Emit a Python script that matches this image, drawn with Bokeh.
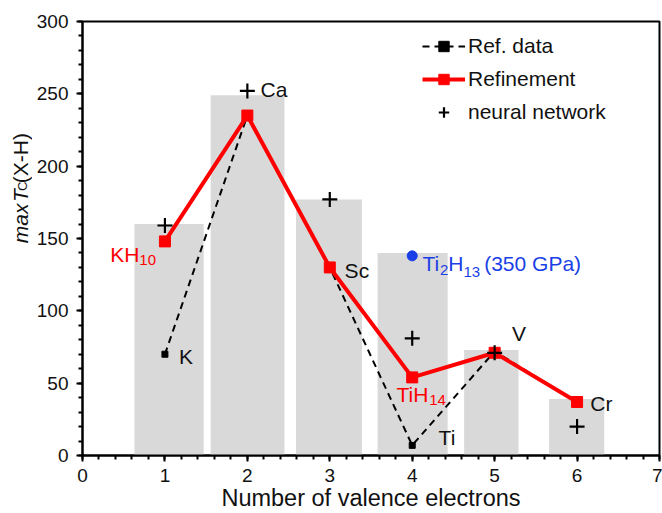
from bokeh.plotting import figure
from bokeh.layouts import row
from bokeh.models import Range1d, SingleIntervalTicker, Label, Legend, LegendItem
from bokeh.embed import file_html
from bokeh.resources import INLINE

# ---------------- data ----------------
electrons = [1, 2, 3, 4, 5, 6]
elements = ["K", "Ca", "Sc", "Ti", "V", "Cr"]
bar_left = [0.63, 1.555, 2.59, 3.58, 4.63, 5.66]
bar_right = [1.47, 2.45, 3.39, 4.43, 5.29, 6.33]
bar_top = [160, 249, 177, 140, 73, 39]
ref_tc = [70, 235, 130, 7, 72, 37]
refine_tc = [148, 235, 130, 54, 71, 37]
nn_tc = [159, 252, 177, 81, 71, 20]
ti2h13_x = [4]
ti2h13_tc = [138]
x_title = "Number of valence electrons"

FONT = "Liberation Sans"
RED = "#ff0000"
BLUE = "#1a3fe6"
INK = "#111111"

TOTAL_W, TOTAL_H = 662, 513
YT_W = 32          # width of the strip holding the y-axis title
MAIN_W = TOTAL_W - YT_W

p = figure(width=MAIN_W, height=TOTAL_H, x_range=Range1d(0, 7), y_range=Range1d(0, 300),
           output_backend="svg", toolbar_location=None,
           min_border_left=50, min_border_right=3, min_border_top=21, min_border_bottom=57)

p.xaxis.ticker = SingleIntervalTicker(interval=1, num_minor_ticks=5)
p.yaxis.ticker = SingleIntervalTicker(interval=50, num_minor_ticks=5)
for ax in (p.xaxis, p.yaxis):
    ax.axis_line_width = 2
    ax.axis_line_color = "black"
    ax.major_tick_in = 0
    ax.major_tick_out = 6
    ax.minor_tick_in = 0
    ax.minor_tick_out = 4
    ax.major_tick_line_width = 2
    ax.minor_tick_line_width = 2
    ax.major_tick_line_color = "black"
    ax.minor_tick_line_color = "black"
    ax.major_label_text_font = FONT
    ax.major_label_text_font_size = "19px"
    ax.major_label_text_color = INK
p.xaxis.major_label_standoff = 7
p.yaxis.major_label_standoff = 8
p.xaxis.axis_label = x_title
p.xaxis.axis_label_text_font = FONT
p.xaxis.axis_label_text_font_size = "23.5px"
p.xaxis.axis_label_text_font_style = "normal"
p.xaxis.axis_label_text_color = INK
p.xaxis.axis_label_standoff = 0
p.xgrid.grid_line_color = None
p.ygrid.grid_line_color = None
p.outline_line_color = "black"
p.outline_line_width = 2
p.outline_line_alpha = 1

# ---------------- glyphs ----------------
p.quad(left=bar_left, right=bar_right, bottom=0, top=bar_top,
       fill_color="#d9d9d9", line_color=None)
ref_line = p.line(electrons, ref_tc, line_color="black", line_width=2, line_dash="7 5")
ref_pts = p.scatter(electrons, ref_tc, marker="square", size=6, color="black")
red_line = p.line(electrons, refine_tc, line_color=RED, line_width=4)
red_pts = p.scatter(electrons, refine_tc, marker="square", size=11, color=RED)
nn_pts = p.scatter(electrons, nn_tc, marker="cross", size=15, line_color="black", line_width=2.2)
p.scatter(ti2h13_x, ti2h13_tc, marker="circle", size=10, color=BLUE)

# ---------------- text helpers ----------------
PX_X = 7 / 577
PX_Y = 300 / 435
MID = 0.35  # middle of the text box above the baseline, in em
ARIAL = {" ": 278, "(": 333, ")": 333, "-": 333, "G": 778, "P": 667, "a": 556,
         "H": 722, "T": 611, "i": 222, "K": 667, "C": 722, "X": 667, "m": 833,
         "x": 500}
for d in "0123456789":
    ARIAL[d] = 556


def adv(s, size):
    return sum(ARIAL.get(c, 556) for c in s) / 1000 * size


def rich(x0, base_y, pieces, color):
    """pieces placed side by side; base_y is the baseline (data units)."""
    x = x0
    for text, size, drop, gap in pieces:
        y = base_y + (MID * size - drop) * PX_Y
        p.add_layout(Label(x=x, y=y, text=text, text_font=FONT,
                           text_font_size=f"{size}px", text_color=color,
                           text_align="left", text_baseline="middle"))
        x += (adv(text, size) + gap) * PX_X


def plain(x, y, text, color=INK, size=21):
    p.add_layout(Label(x=x, y=y, text=text, text_font=FONT, text_font_size=f"{size}px",
                       text_color=color, text_align="left", text_baseline="middle"))


# element labels
label_pos = [(1.17, 68.5), (2.16, 253), (3.18, 127.8), (4.32, 12.5), (5.21, 84.6), (6.16, 36)]
for name, (lx, ly) in zip(elements, label_pos):
    plain(lx, ly, name)

rich(0.336, 133.8, [("KH", 21, 0, 0), ("10", 15, 3, 0)], RED)
rich(3.809, 37.2, [("TiH", 21, 0, 0), ("14", 15, 4, 0)], RED)
rich(4.125, 127.4, [("Ti", 21, 0, 0), ("2", 15, 4, 0), ("H", 21, 0, 0),
                    ("13", 15, 6, 4), ("(350 GPa)", 21, 0, 0)], BLUE)

# ---------------- legend ----------------
legend = Legend(items=[LegendItem(label="Ref. data", renderers=[ref_line, ref_pts]),
                       LegendItem(label="Refinement", renderers=[red_line, red_pts]),
                       LegendItem(label="neural network", renderers=[nn_pts])],
                location=(340, 330), glyph_width=43, glyph_height=26, label_height=26,
                spacing=7, padding=0, margin=0, label_standoff=3,
                border_line_alpha=0, background_fill_alpha=0,
                label_text_font=FONT, label_text_font_size="21px", label_text_color=INK)
p.add_layout(legend)

# ---------------- y-axis title strip ----------------
yt = figure(width=YT_W, height=TOTAL_H, x_range=Range1d(0, YT_W), y_range=Range1d(0, TOTAL_H),
            output_backend="svg", toolbar_location=None, x_axis_type=None, y_axis_type=None,
            min_border=0)
yt.outline_line_color = None
yt.xgrid.grid_line_color = None
yt.ygrid.grid_line_color = None
base_x = 27.0              # screen x of the rotated baseline
yy = TOTAL_H - 262.0       # start of the text (from bottom of strip)
for text, size, style, gap in [("max", 21, "italic", 9), ("T", 21, "italic", 0),
                               ("C", 13, "normal", 0), ("(X-H)", 21, "normal", 0)]:
    yt.add_layout(Label(x=base_x - MID * size, y=yy, text=text, text_font=FONT,
                        text_font_size=f"{size}px", text_font_style=style, text_color=INK,
                        angle=1.5707963, text_align="left", text_baseline="middle"))
    yy += adv(text, size) + gap

layout = row(yt, p)
open("out.html", "w").write(file_html(layout, INLINE))
